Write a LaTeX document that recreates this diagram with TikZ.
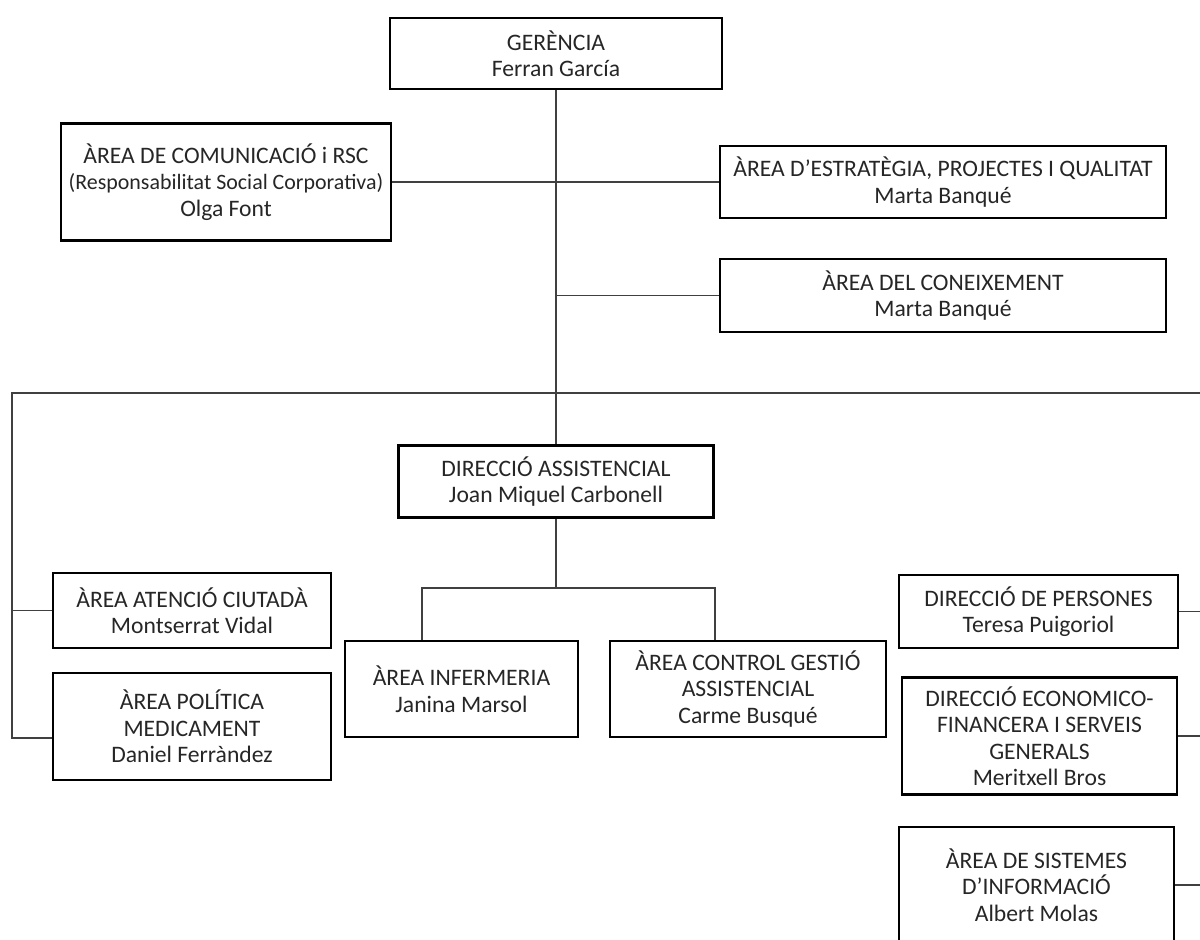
\documentclass[tikz,border=0pt]{standalone}
\usepackage{fontspec}
\setmainfont{Carlito}
\usetikzlibrary{positioning,calc}
\definecolor{ink}{RGB}{38,38,38}
\definecolor{wire}{RGB}{64,64,64}
\tikzset{
  unit/.style 2 args={draw=black,line width=1.8pt,text=ink,align=center,
    inner sep=0pt,font=\fontsize{16.8}{18.8}\selectfont,
    minimum width=#1*0.025cm,minimum height=#2*0.025cm},
  link/.style={draw=wire,line width=0.8pt},
}

\begin{document}
\begin{tikzpicture}[x=0.025cm,y=-0.025cm]
  \useasboundingbox (0,0) rectangle (1200,939);
  \clip (0,0) rectangle (1200,939);
  % top level
  \node[unit={332}{71}] (ger) at (556,53.5) {GERÈNCIA\\Ferran García};
  \node[unit={330}{117}] (com) at (226,182) {ÀREA DE COMUNICACIÓ i RSC\\{\fontsize{15.6}{18.8}\selectfont (Responsabilitat Social Corporativa)}\\Olga Font};
  \node[unit={446}{72}] (est) at (943,182) {ÀREA D’ESTRATÈGIA, PROJECTES I QUALITAT\\Marta Banqué};
  \node[unit={446}{73}] (con) at (943,295.5) {ÀREA DEL CONEIXEMENT\\Marta Banqué};
  \node[unit={315}{72}] (dass) at (556,481.5) {DIRECCIÓ ASSISTENCIAL\\Joan Miquel Carbonell};
  % left side
  \node[unit={278}{75}] (ate) at (192,610.5) {ÀREA ATENCIÓ CIUTADÀ\\Montserrat Vidal};
  \node[unit={278}{107}] (pol) at (192,726.5) {ÀREA POLÍTICA\\MEDICAMENT\\Daniel Ferràndez};
  % under direcció assistencial
  \node[unit={233}{96}] (inf) at (461.5,689) {ÀREA INFERMERIA\\Janina Marsol};
  \node[unit={276}{96}] (ctl) at (748,689) {ÀREA CONTROL GESTIÓ\\ASSISTENCIAL\\Carme Busqué};
  % right side
  \node[unit={279}{73}] (per) at (1038.5,611.5) {DIRECCIÓ DE PERSONES\\Teresa Puigoriol};
  \node[unit={275}{117}] (eco) at (1039.5,736) {DIRECCIÓ ECONOMICO-\\FINANCERA I SERVEIS\\GENERALS\\Meritxell Bros};
  \node[unit={275}{116}] (sis) at (1036.5,885) {ÀREA DE SISTEMES\\D’INFORMACIÓ\\Albert Molas};

  \coordinate (busL) at (12,393);
  \coordinate (busR) at (1206,393);
  \coordinate (fork) at (556,588);

  \draw[link] (ger.south) -- (ger.south |- dass.north);
  \draw[link] (com) -- (est);
  \draw[link] (con.west) -- (con.west -| ger.south);
  \draw[link] ($(pol.west)+(0,11.5)$) -| (busL) -- (busR) |- (sis.east);
  \draw[link] (ate.west) -- (ate.west -| busL);
  \draw[link] (per.east) -- (per.east -| busR);
  \draw[link] (eco.east) -- (eco.east -| busR);
  \draw[link] (dass) -- (fork);
  \draw[link] ($(inf.north)+(-39.5,0)$) |- (fork) -| ($(ctl.north)+(-33,0)$);
\end{tikzpicture}
\end{document}
